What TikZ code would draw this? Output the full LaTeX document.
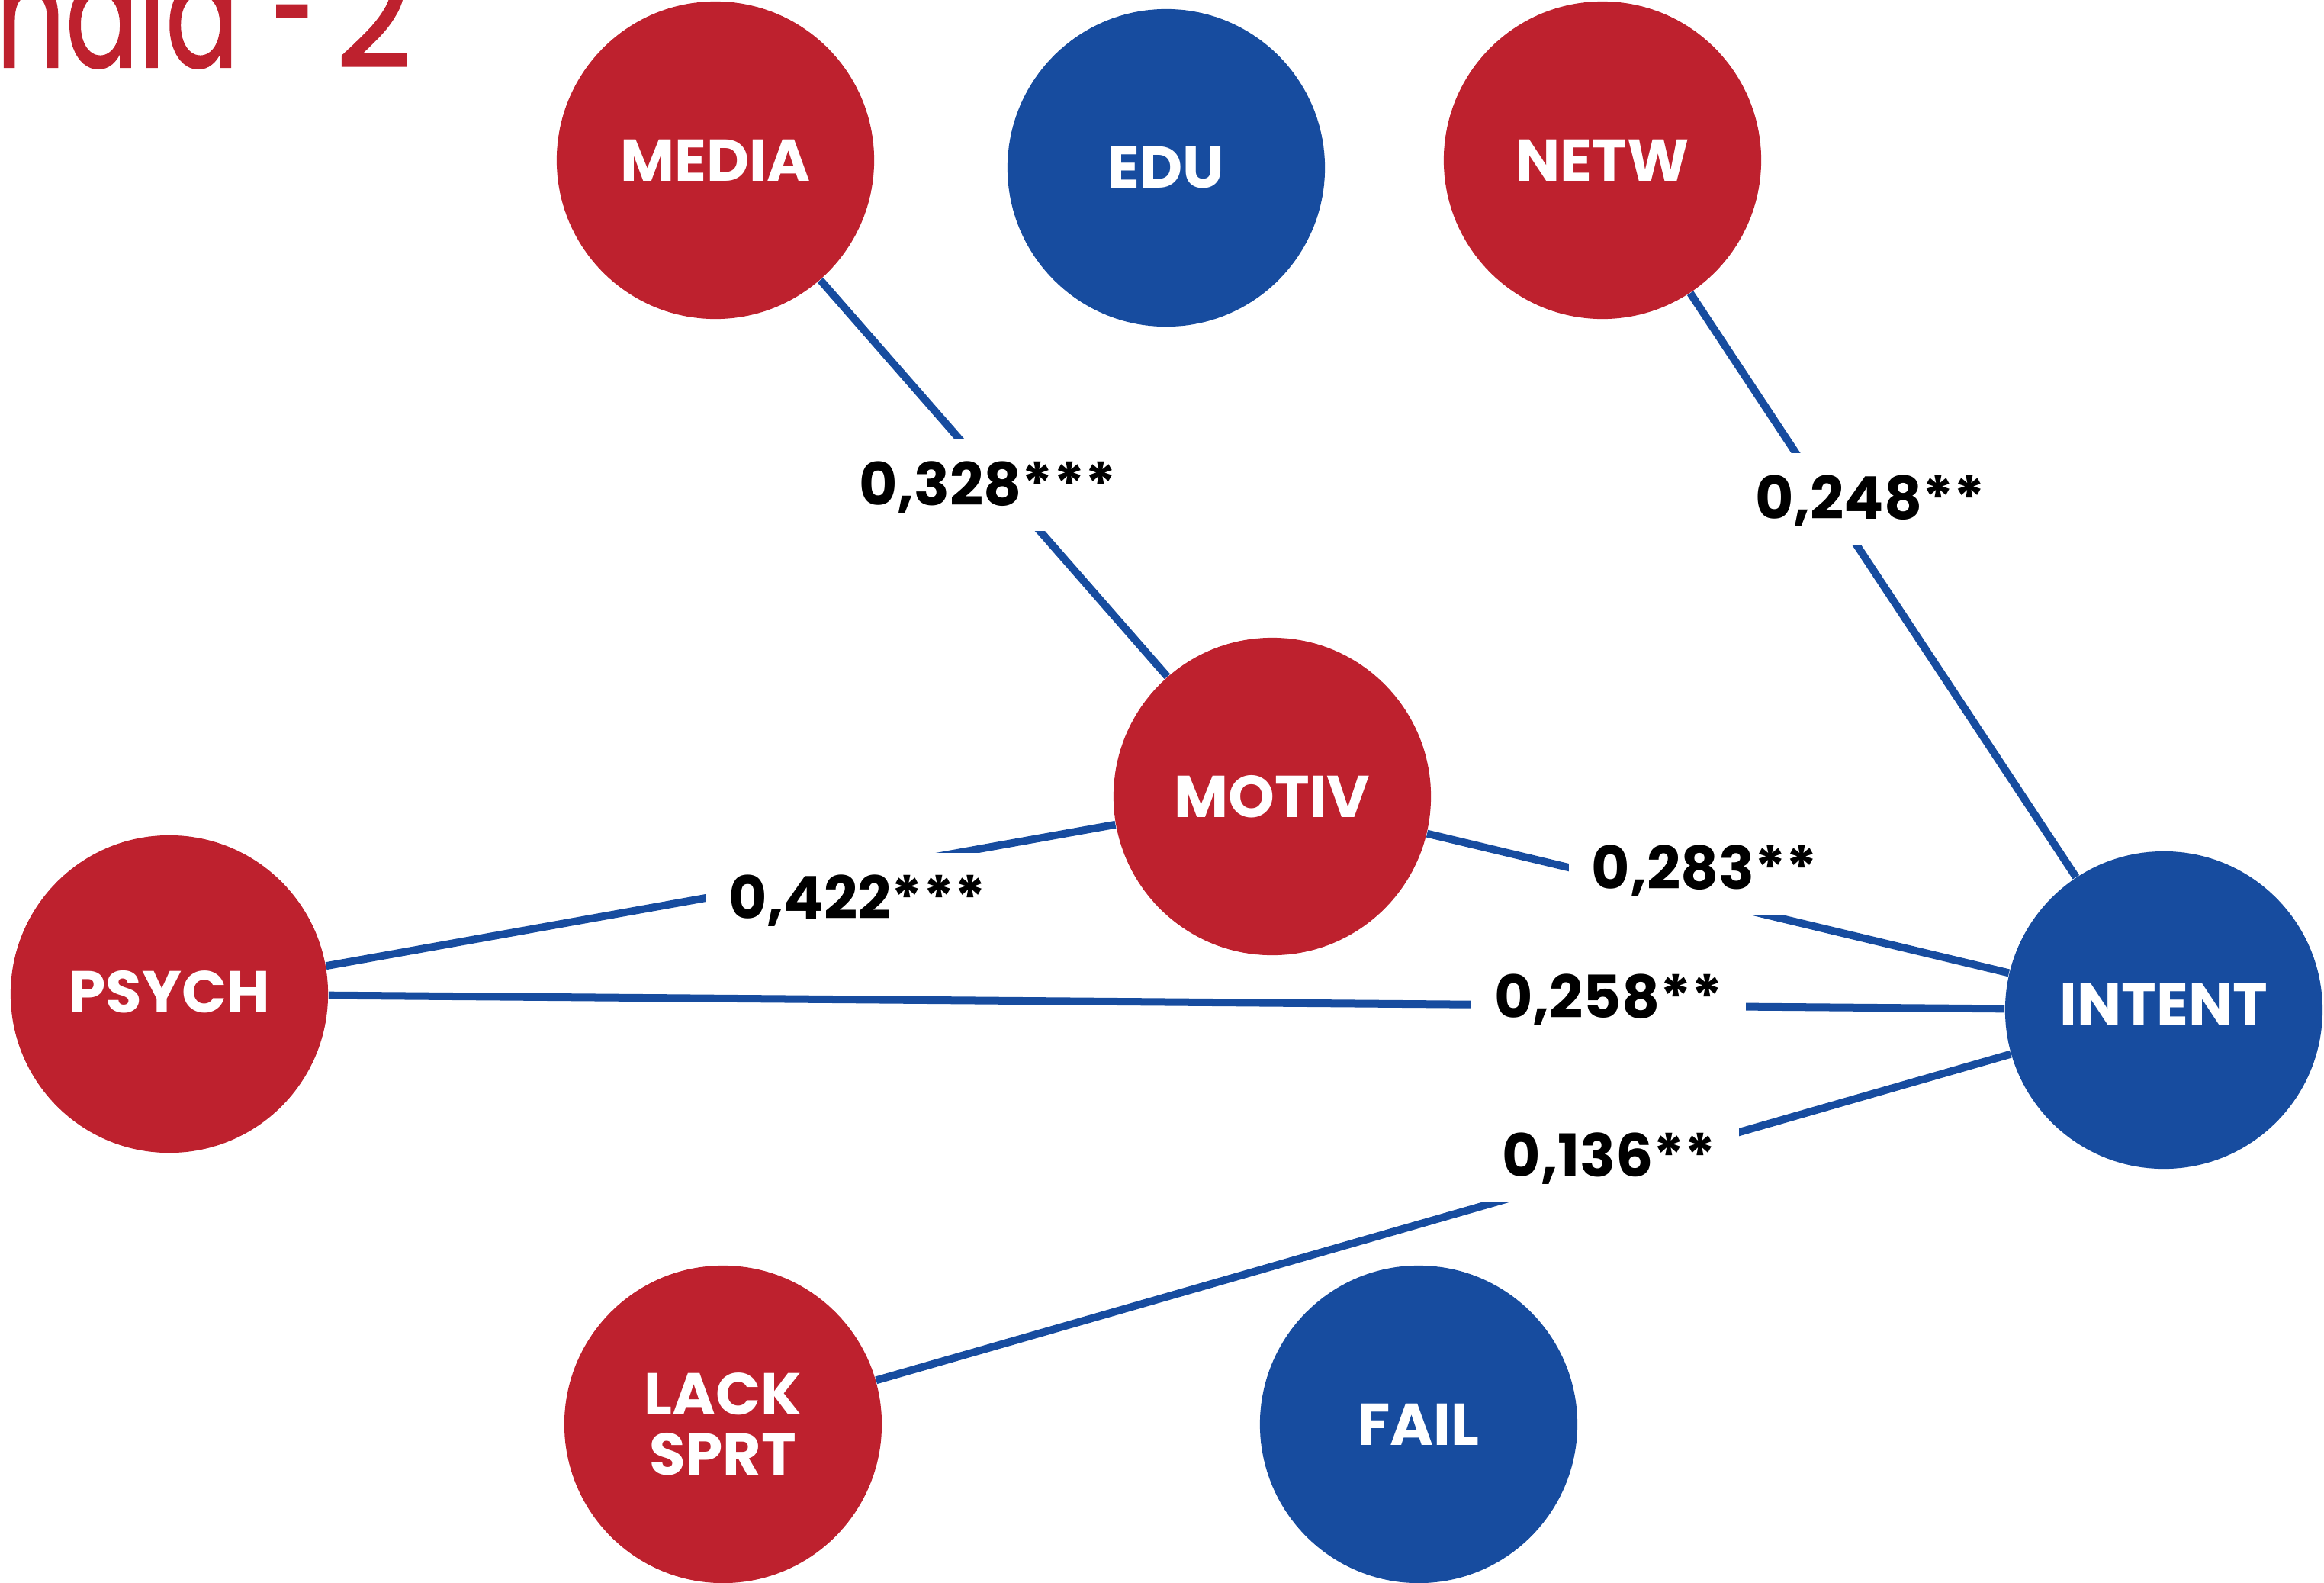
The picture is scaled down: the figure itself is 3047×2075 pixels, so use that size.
\documentclass[tikz,border=0pt]{standalone}
\usepackage{fontspec}
\setmainfont{Poppins}
\newfontfamily\titlefont{Poppins}[FakeBold=1.2]
\definecolor{cred}{RGB}{190,33,46}
\definecolor{cblue}{RGB}{23,76,159}
\newcommand{\dn}[2]{\raisebox{#1}{#2}}
\begin{document}
\begin{tikzpicture}[x=0.01cm,y=-0.01cm,
  circ/.style={circle, minimum size=4.16cm, inner sep=0pt, text=white,
    font=\fontsize{22}{22.5}\selectfont\bfseries, align=center},
  redc/.style={circ, fill=cred},
  bluec/.style={circ, fill=cblue},
  conn/.style={draw=cblue, line width=0.1cm},
  lbl/.style={fill=white, text=black, font=\fontsize{22}{26}\selectfont\bfseries,
    text height=0.53cm, text depth=0pt, inner xsep=0.3cm, inner ysep=0.33cm},
  ttl/.style={text=cred, font=\fontsize{57}{60}\titlefont, inner sep=0pt}]
\useasboundingbox (0,0) rectangle (3047,2075);

\node[ttl, anchor=base west] (title) at (-6,88)
  {\rlap{\scalebox{0.71}[1]{\llap{I}ndia}}\rlap{\hspace{3.62cm}\scalebox{0.5}[1]{-}}\hspace{4.45cm}\scalebox{0.87}[1]{2}};

\node[redc]  (media)  at (938,210)   {\dn{-0.12cm}{MEDIA}};
\node[bluec] (edu)    at (1529,220)  {\dn{-0.02cm}{EDU}};
\node[redc]  (netw)   at (2101,210)  {\dn{-0.12cm}{NETW}};
\node[redc]  (motiv)  at (1668,1044) {MOTIV};
\node[redc]  (psych)  at (222,1303)  {\dn{0.07cm}{PSYCH}};
\node[bluec] (intent) at (2837,1324) {\dn{0.16cm}{INTENT}};
\node[redc]  (lack)   at (948,1867)  {LACK\\SPRT};
\node[bluec] (fail)   at (1860,1867) {\dn{-0.03cm}{FAIL}};

\draw[conn] (media) -- (motiv);
\draw[conn] (netw) -- (intent);
\draw[conn] (psych) -- (motiv);
\draw[conn] (motiv) -- (intent);
\draw[conn] (psych) -- (intent);
\draw[conn] (lack) -- (intent);

\node[lbl] (l1) at (1295,636)  {0,328***};
\node[lbl] (l2) at (2452,654)  {0,248**};
\node[lbl] (l3) at (1124,1178) {0,422***};
\node[lbl] (l4) at (2235,1139) {0,283**};
\node[lbl] (l5) at (2109,1308) {0,258**};
\node[lbl] (l6) at (2110,1516) {0,136**};
\end{tikzpicture}
\end{document}
